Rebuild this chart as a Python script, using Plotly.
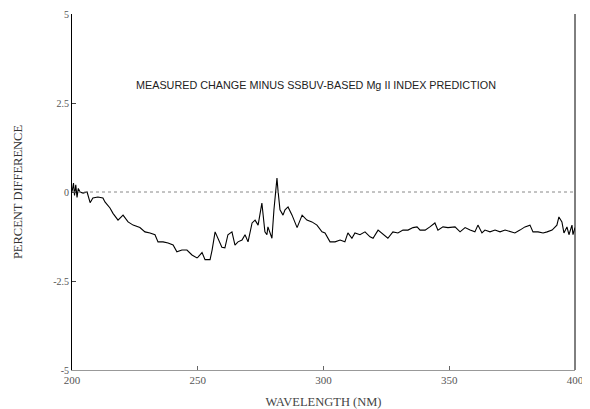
import plotly.graph_objects as go

wavelength = [200.0, 200.6, 201.0, 201.5, 202.0, 202.5, 203.2, 204.4, 206.0, 207.2, 208.3, 210.3,
              212.3, 213.1, 215.1, 216.3, 218.3, 220.3, 222.3, 224.3, 227.0, 229.0, 231.0, 233.0,
              234.2, 236.2, 238.2, 240.2, 241.7, 243.7, 245.7, 247.7, 249.7, 250.1, 251.7, 252.9,
              254.9, 255.7, 256.9, 258.1, 259.6, 260.8, 262.0, 263.6, 264.8, 266.0, 267.6, 268.8,
              270.0, 271.6, 272.8, 274.0, 275.5, 276.7, 277.5, 277.9, 279.5, 280.3, 281.1, 281.5,
              281.9, 282.7, 283.9, 284.7, 285.9, 287.5, 289.5, 291.5, 293.4, 295.4, 297.4, 299.4,
              300.6, 302.6, 304.6, 306.6, 308.5, 309.7, 311.3, 312.5, 314.5, 316.5, 318.5, 319.7,
              321.7, 323.7, 325.6, 327.6, 329.6, 331.6, 333.6, 335.6, 337.2, 338.4, 340.4, 342.3,
              344.3, 345.5, 347.5, 349.5, 350.3, 352.3, 354.3, 356.3, 358.3, 360.2, 361.4, 363.0,
              364.2, 366.2, 368.2, 370.2, 372.2, 374.2, 376.1, 378.1, 380.1, 382.1, 383.3, 385.3,
              387.3, 388.9, 390.9, 392.8, 393.6, 394.8, 395.6, 396.8, 397.6, 398.8, 399.2, 400.0]

percent_diff = [0.0, 0.25, -0.1, 0.2, -0.15, 0.1, 0.0, -0.03, 0.0, -0.3, -0.17, -0.14,
                -0.17, -0.28, -0.45, -0.6, -0.79, -0.65, -0.84, -0.93, -1.0, -1.12, -1.15, -1.2,
                -1.4, -1.4, -1.43, -1.49, -1.68, -1.63, -1.63, -1.77, -1.85, -1.83, -1.7, -1.9,
                -1.9, -1.63, -1.12, -1.3, -1.55, -1.57, -1.2, -1.12, -1.49, -1.4, -1.35, -1.2,
                -1.4, -0.87, -0.79, -0.93, -0.31, -1.12, -1.2, -0.98, -1.3, -0.5, 0.05, 0.39,
                0.05, -0.5, -0.65, -0.5, -0.42, -0.65, -1.0, -0.65, -0.79, -0.84, -0.93, -1.12,
                -1.15, -1.4, -1.4, -1.35, -1.4, -1.15, -1.3, -1.15, -1.2, -1.12, -1.26, -1.3,
                -1.07, -1.2, -1.3, -1.12, -1.15, -1.07, -1.07, -1.0, -0.98, -1.07, -1.07, -0.98,
                -0.87, -1.07, -0.98, -1.0, -1.0, -0.98, -1.12, -1.0, -1.07, -1.12, -0.93, -1.15,
                -1.07, -1.12, -1.07, -1.12, -1.07, -1.12, -1.15, -1.07, -0.98, -0.93, -1.12, -1.12,
                -1.15, -1.12, -1.07, -0.93, -0.7, -0.84, -1.15, -0.98, -1.2, -0.93, -1.2, -1.0]

x_ticks = [200, 250, 300, 350, 400]
y_ticks = [5, 2.5, 0, -2.5, -5]
y_tick_text = ["5", "2.5", "0", "-2.5", "-5"]

title_text = "MEASURED CHANGE MINUS SSBUV-BASED Mg II INDEX PREDICTION"

fig = go.Figure()
fig.add_trace(go.Scatter(x=wavelength, y=percent_diff, mode="lines",
                         line=dict(color="black", width=1.1), showlegend=False,
                         hoverinfo="skip"))

# zero reference line
fig.add_trace(go.Scatter(x=[200, 400], y=[0, 0], mode="lines",
                         line=dict(color="#888888", width=1, dash="dot"),
                         showlegend=False, hoverinfo="skip"))

fig.add_annotation(text=title_text, x=0.485, y=3.0, xref="paper", yref="y",
                   showarrow=False, font=dict(family="Liberation Sans", size=10.8, color="#222222"))

fig.update_layout(
    width=582, height=401,
    margin=dict(l=64, r=15, t=6, b=39, autoexpand=False),
    paper_bgcolor="white", plot_bgcolor="white",
    font=dict(family="Liberation Serif", color="#444444"),
    xaxis=dict(range=[200, 400], tickvals=x_ticks, ticktext=[str(t) for t in x_ticks],
               showgrid=False, zeroline=False, showline=True, linecolor="#999999",
               ticks="inside", ticklen=4, tickcolor="#666666", automargin=False,
               tickfont=dict(size=11, family="Liberation Serif", color="#555555"),
               title=dict(text="WAVELENGTH (NM)", font=dict(size=12.5, family="Liberation Serif", color="#444444"), standoff=14)),
    yaxis=dict(range=[-5, 5], tickvals=y_ticks, ticktext=y_tick_text,
               showgrid=False, zeroline=False, showline=True, linecolor="black",
               mirror=False, ticks="inside", ticklen=4, tickcolor="#444444", automargin=False,
               tickfont=dict(size=10, family="Liberation Serif", color="#555555"),
               title=dict(text="PERCENT DIFFERENCE", font=dict(size=12.5, family="Liberation Serif", color="#333333"), standoff=27)),
)

# right border line
fig.add_shape(type="line", xref="paper", yref="paper", x0=1, x1=1, y0=0, y1=1,
              line=dict(color="black", width=1))

fig.write_html("out.html")
